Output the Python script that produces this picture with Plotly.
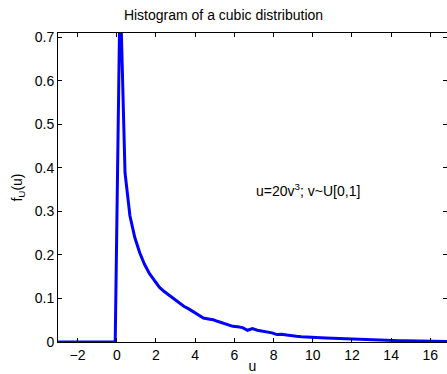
import plotly.graph_objects as go

# bin centres (u) and histogram densities f_U(u)
u_vals = [-3.0, -0.08, 0.17, 0.42, 0.67, 0.92, 1.17, 1.42, 1.67, 1.92, 2.17, 2.42, 2.67,
          2.92, 3.17, 3.42, 3.67, 3.92, 4.17, 4.42, 4.67, 4.92, 5.17, 5.42, 5.67, 5.92,
          6.17, 6.42, 6.67, 6.92, 7.17, 7.42, 7.67, 7.92, 8.17, 8.42, 8.67, 8.92, 9.17,
          9.42, 9.67, 9.92, 10.17, 10.42, 10.67, 10.92, 11.17, 11.42, 11.67, 11.92,
          12.17, 12.42, 12.67, 12.92, 13.17, 13.42, 13.67, 13.92, 14.17, 14.42, 14.67,
          14.92, 15.17, 15.42, 15.67, 15.92, 16.17, 16.42, 16.67, 16.92, 17.17]
f_vals = [0.0, 0.0, 0.82, 0.389, 0.29, 0.24, 0.205, 0.178, 0.157, 0.14, 0.126, 0.116, 0.107,
          0.098, 0.089, 0.082, 0.076, 0.069, 0.062, 0.055, 0.053, 0.051, 0.047, 0.043, 0.039,
          0.036, 0.035, 0.033, 0.027, 0.031, 0.027, 0.025, 0.023, 0.021, 0.017, 0.018, 0.016,
          0.014, 0.013, 0.012, 0.011, 0.010, 0.010, 0.0095, 0.009, 0.0085, 0.008, 0.0075,
          0.007, 0.0065, 0.006, 0.0055, 0.005, 0.005, 0.0048, 0.0046, 0.0045, 0.004, 0.0035,
          0.003, 0.0027, 0.0025, 0.0022, 0.002, 0.0018, 0.0016, 0.0014, 0.0012, 0.001,
          0.001, 0.001]

x_ticks = [-2, 0, 2, 4, 6, 8, 10, 12, 14, 16]
y_ticks = [0, 0.1, 0.2, 0.3, 0.4, 0.5, 0.6, 0.7]
y_tick_labels = ["0", "0.1", "0.2", "0.3", "0.4", "0.5", "0.6", "0.7"]

title_text = "Histogram of a cubic distribution"
xlabel = "u"
ylabel = "f<sub>U</sub>(u)"
note_text = "u=20v<sup>3</sup>; v~U[0,1]"

FONT = "Liberation Sans, Arial, sans-serif"
FS = 14

fig = go.Figure()
fig.add_trace(go.Scatter(x=u_vals, y=f_vals, mode="lines",
                         line=dict(color="#0000FF", width=3), showlegend=False,
                         cliponaxis=True))
# invisible trace to carry right-side tick marks
fig.add_trace(go.Scatter(x=[u_vals[0]], y=[0], yaxis="y2", mode="lines",
                         line=dict(width=0), showlegend=False, hoverinfo="skip"))

fig.update_layout(
    width=447, height=374,
    margin=dict(l=58, r=0, t=33, b=32),
    paper_bgcolor="white", plot_bgcolor="white",
    font=dict(family=FONT, size=FS, color="black"),
    title=dict(text=title_text, x=0.5, xref="container", xanchor="center",
               y=1 - 15 / 374, yref="container", yanchor="middle",
               font=dict(size=FS, family=FONT, color="black")),
    xaxis=dict(range=[-3, 16.85], tickvals=x_ticks, ticks="inside", ticklen=4,
               tickcolor="black", showline=True, linecolor="black", linewidth=1,
               mirror="ticks", showgrid=False, zeroline=False,
               tickfont=dict(size=FS),
               title=dict(text=xlabel, standoff=1, font=dict(size=FS))),
    yaxis=dict(range=[0, 0.71], tickvals=y_ticks, ticktext=y_tick_labels,
               ticks="inside", ticklen=4,
               tickcolor="black", showline=True, linecolor="black", linewidth=1,
               mirror=False, showgrid=False, zeroline=False,
               tickfont=dict(size=FS),
               title=dict(text=ylabel, standoff=8, font=dict(size=FS))),
    yaxis2=dict(range=[0, 0.71], tickvals=y_ticks, overlaying="y", side="right",
                ticks="inside", ticklen=4, tickcolor="black", showline=False,
                showticklabels=False, showgrid=False, zeroline=False),
    annotations=[dict(text=note_text, x=7, y=0.35, xref="x", yref="y",
                      xanchor="left", yanchor="middle", showarrow=False,
                      font=dict(size=FS, family=FONT, color="black"))],
)

fig.write_html("out.html")
